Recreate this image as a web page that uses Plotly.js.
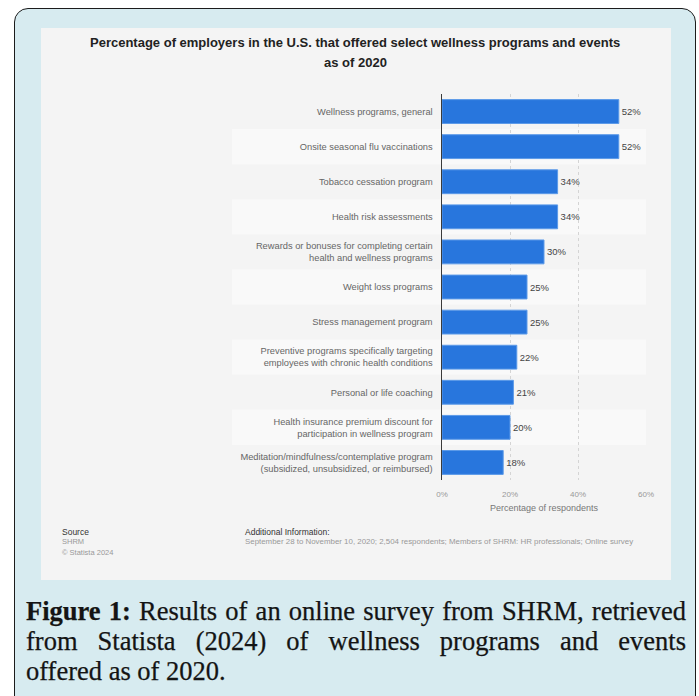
<!DOCTYPE html>
<html>
<head>
<meta charset="utf-8">
<script src="https://cdn.plot.ly/plotly-3.0.1.min.js"></script>
<style>
  html, body { margin:0; padding:0; background:#ffffff; width:699px; height:696px; overflow:hidden; }
  #frame { position:absolute; left:14px; top:8px; width:682px; height:720px; border:1.5px solid #1c1c1c; border-radius:14px; background:#d7ebf0; box-sizing:border-box; }
  #chart { position:absolute; left:41px; top:28px; width:630px; height:552px; }
  .cap { position:absolute; left:26px; width:660px; font-family:"Liberation Serif", serif; font-size:26.5px; line-height:30px; color:#141414; white-space:nowrap; -webkit-text-stroke:0.25px #141414; }
  .just { text-align:justify; text-align-last:justify; }
</style>
</head>
<body>
<div id="frame"></div>
<div id="chart"></div>
<div class="cap just" id="l1" style="top:596px;"><b>Figure 1:</b> Results of an online survey from SHRM, retrieved</div>
<div class="cap just" id="l2" style="top:626px;">from Statista (2024) of wellness programs and events</div>
<div class="cap" style="top:656px;">offered as of 2020.</div>
<script>
const categories = [
  "Wellness programs, general",
  "Onsite seasonal flu vaccinations",
  "Tobacco cessation program",
  "Health risk assessments",
  "Rewards or bonuses for completing certain<br>health and wellness programs",
  "Weight loss programs",
  "Stress management program",
  "Preventive programs specifically targeting<br>employees with chronic health conditions",
  "Personal or life coaching",
  "Health insurance premium discount for<br>participation in wellness program",
  "Meditation/mindfulness/contemplative program<br>(subsidized, unsubsidized, or reimbursed)"
];
const values = [52, 52, 34, 34, 30, 25, 25, 22, 21, 20, 18];
const xTickVals = [0, 20, 40, 60];
const xTickText = ["0%", "20%", "40%", "60%"];

// keep justified caption lines on one line: shrink letter spacing if natural width is too large
(function fitCaption(){
  ['l1','l2'].forEach(id => {
    const el = document.getElementById(id);
    const probe = el.cloneNode(true);
    probe.style.width = 'auto'; probe.style.textAlign = 'left'; probe.style.textAlignLast = 'auto';
    probe.style.visibility = 'hidden';
    document.body.appendChild(probe);
    const w = probe.getBoundingClientRect().width;
    document.body.removeChild(probe);
    if (w > 660) {
      const n = el.textContent.length;
      el.style.letterSpacing = ((660 - w) / n - 0.05) + 'px';
    }
  });
})();

const W = 630, H = 552;
const M = {l:401, r:25, t:66, b:100};
const PW = W - M.l - M.r, PH = H - M.t - M.b;
const px = x => (x - M.l) / PW;
const py = y => 1 - (y - M.t) / PH;

const shapes = [];
for (let i = 0; i < categories.length; i++) {
  if (i % 2 === 1) {
    shapes.push({type:'rect', xref:'paper', yref:'y', x0:px(191), x1:1, y0:i-0.5, y1:i+0.5,
      fillcolor:'#f9f9f9', line:{width:0}, layer:'below'});
  }
}

const font = "Liberation Sans, Arial, sans-serif";
const annotations = [
  {text:"<b>Percentage of employers in the U.S. that offered select wellness programs and events</b>", x:px(314), y:py(15), xref:'paper', yref:'paper', xanchor:'center', yanchor:'middle', showarrow:false, font:{family:font, size:13, color:'#222'}},
  {text:"<b>as of 2020</b>", x:px(314), y:py(35), xref:'paper', yref:'paper', xanchor:'center', yanchor:'middle', showarrow:false, font:{family:font, size:13, color:'#222'}},
  {text:"Percentage of respondents", x:0.5, y:py(480), xref:'paper', yref:'paper', xanchor:'center', yanchor:'middle', showarrow:false, font:{family:font, size:9, color:'#777'}},
  {text:"Source", x:px(19), y:py(504), xref:'paper', yref:'paper', xanchor:'left', yanchor:'middle', showarrow:false, font:{family:font, size:8.5, color:'#333'}},
  {text:"SHRM", x:px(19), y:py(513), xref:'paper', yref:'paper', xanchor:'left', yanchor:'middle', showarrow:false, font:{family:font, size:7.5, color:'#999'}},
  {text:"© Statista 2024", x:px(19), y:py(524), xref:'paper', yref:'paper', xanchor:'left', yanchor:'middle', showarrow:false, font:{family:font, size:7.5, color:'#999'}},
  {text:"Additional Information:", x:px(202), y:py(504), xref:'paper', yref:'paper', xanchor:'left', yanchor:'middle', showarrow:false, font:{family:font, size:8.5, color:'#333'}},
  {text:"September 28 to November 10, 2020; 2,504 respondents; Members of SHRM: HR professionals; Online survey", x:px(202), y:py(513), xref:'paper', yref:'paper', xanchor:'left', yanchor:'middle', showarrow:false, font:{family:font, size:7.9, color:'#999'}}
];

const trace = {
  type:'bar', orientation:'h',
  x: values, y: categories,
  text: values.map(v => v + '%'),
  textposition:'outside', cliponaxis:false,
  textfont:{family:font, size:9.5, color:'#444'},
  marker:{color:'#2876dd', line:{color:'#5c9ae8', width:1}},
  width:0.68,
  hoverinfo:'skip'
};

const layout = {
  width:W, height:H,
  margin:M,
  paper_bgcolor:'#f4f4f4', plot_bgcolor:'rgba(0,0,0,0)',
  showlegend:false,
  font:{family:font},
  xaxis:{range:[0,60], tickvals:xTickVals, ticktext:xTickText, showgrid:true, gridcolor:'#d4d4d4', griddash:'dot', gridwidth:1,
    zeroline:false, showline:false, ticks:'', tickfont:{family:font, size:8, color:'#999'}, ticklabelstandoff:8, fixedrange:true},
  yaxis:{type:'category', autorange:'reversed', showline:true, linecolor:'#3a3a3a', linewidth:1.5, ticks:'', showgrid:false,
    tickfont:{family:font, size:9.3, color:'#666'}, ticklabelstandoff:6, fixedrange:true},
  shapes:shapes,
  annotations:annotations
};

Plotly.newPlot('chart', [trace], layout, {displayModeBar:false, staticPlot:true});
</script>
</body>
</html>
